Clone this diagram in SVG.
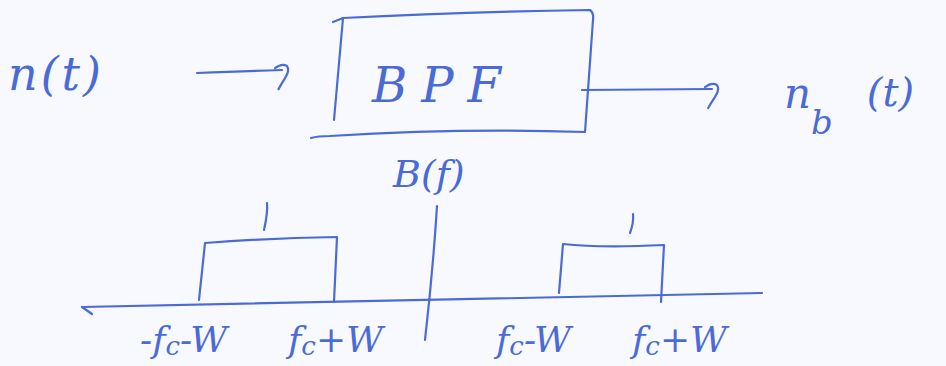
<svg xmlns="http://www.w3.org/2000/svg" width="946" height="366" viewBox="0 0 946 366">
<style>
.ink{fill:none;stroke:#4a6bd6;stroke-width:2.2;stroke-linecap:round;stroke-linejoin:round}
.t{font-family:"DejaVu Serif","Liberation Serif",serif;font-style:italic;fill:#4a6bd6}
</style>
<defs>
<marker id="hook" viewBox="0 0 20 30" refX="8" refY="8" markerWidth="20" markerHeight="30" markerUnits="userSpaceOnUse" orient="auto">
<path d="M1,6 Q8,1 13,4 Q16,9 11,16 Q7,22 4,27" fill="none" stroke="#4a6bd6" stroke-width="2.2" stroke-linecap="round"/>
</marker>
</defs>
<rect width="946" height="366" fill="#f8f9fe"/>
<g id="input">
<text class="t" x="8" y="90" font-size="46" letter-spacing="3">n(t)</text>
</g>
<g id="bpf">
<path class="ink" d="M333,22 Q338,20 343,18 Q460,12 590,10 Q594,13 593,20 L585,132 Q460,128 330,136 Q318,136 311,138"/>
<path class="ink" d="M343,18 L334,120"/>
<text class="t" x="372" y="102" font-size="48" letter-spacing="14">BPF</text>
</g>
<g id="output">
<text class="t" x="784" y="108" font-size="42">n<tspan font-size="34" dy="26">b</tspan><tspan dy="-28" dx="34" font-size="40">(t)</tspan></text>
</g>
<g id="connectors">
<path class="ink" d="M197,73 Q245,71 282,70" marker-end="url(#hook)"/>
<path class="ink" d="M582,90 L712,89" marker-end="url(#hook)"/>
</g>
<g id="spectrum">
<text class="t" x="393" y="187" font-size="38">B(f)</text>
<path class="ink" d="M82,307 Q400,300 762,293"/>
<path class="ink" d="M82,307 L92,314"/>
<path class="ink" d="M437,206 Q433,270 425,340"/>
<path class="ink" d="M199,300 L205,243 Q270,238 337,237 L334,302"/>
<path class="ink" d="M267,203 Q268,212 264,230"/>
<path class="ink" d="M559,293 L563,244 Q600,248 664,245 L661,302"/>
<path class="ink" d="M633,214 Q634,222 630,233"/>
<text class="t" x="140" y="352" font-size="36">-f<tspan font-size="26" dy="3">c</tspan><tspan dy="-3">-W</tspan></text>
<text class="t" x="288" y="352" font-size="36">f<tspan font-size="26" dy="3">c</tspan><tspan dy="-3">+W</tspan></text>
<text class="t" x="496" y="352" font-size="36">f<tspan font-size="26" dy="3">c</tspan><tspan dy="-3">-W</tspan></text>
<text class="t" x="632" y="352" font-size="36">f<tspan font-size="26" dy="3">c</tspan><tspan dy="-3">+W</tspan></text>
</g>
</svg>
